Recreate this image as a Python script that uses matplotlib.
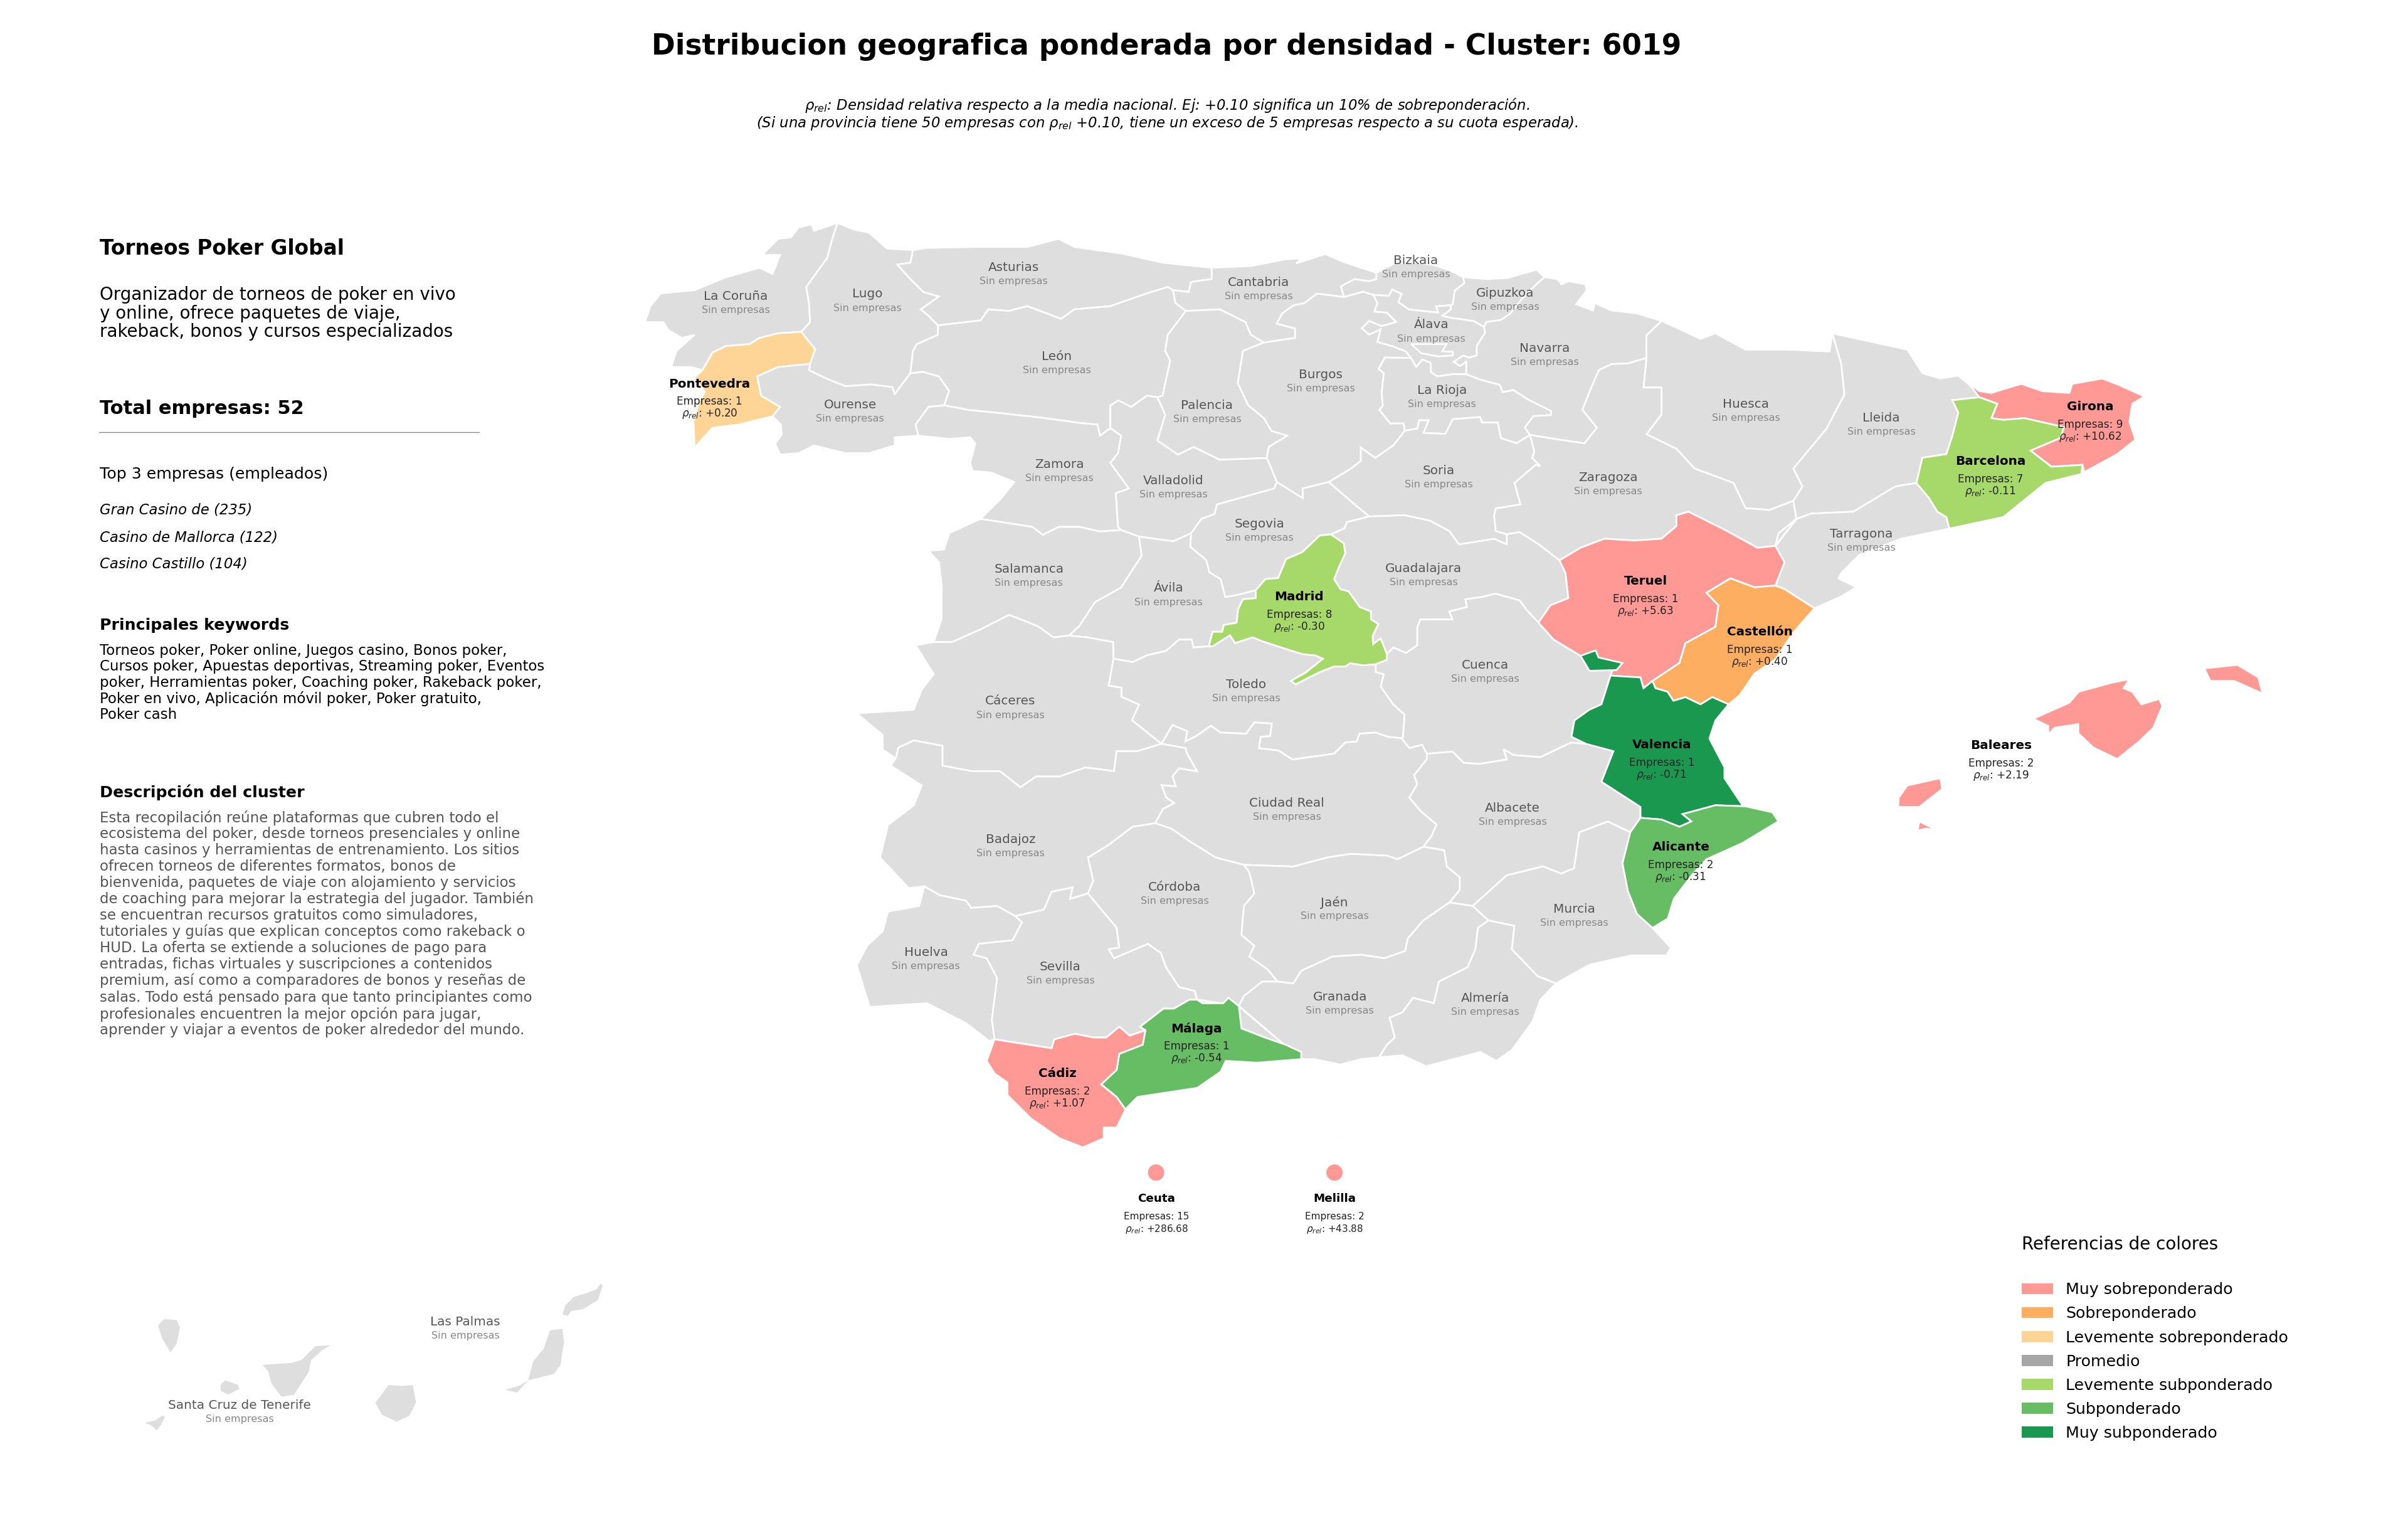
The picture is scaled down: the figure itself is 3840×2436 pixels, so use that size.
import matplotlib
matplotlib.use('Agg')
import matplotlib.pyplot as plt
from matplotlib.patches import Patch, Polygon, Circle

# province borders (picture units, 1568 wide), each one shared by two rings
cru_lug = [(545.4,145.1),(542,155.5),(538.6,168),(525,186.8),(526.8,197.2),(527.5,209.7),(521.7,216)]
cru_pon = [(521.7,216),(506.5,217),(494.6,220),(488,224),(472.6,225.3),(464,229.5),(457.4,241)]
cru_coast = [(457.4,241),(450,239),(437,239),(440.5,228.4),(452.3,218),(444,220),(435.4,215),(432,209.7),(420,209.7),(423.5,199.3),(430.3,191),(452.3,188.9),(472.6,180.5),(494.6,174.3),(503,178.4),(508,166),(496.3,166),(506.5,155.5),(515,154.5),(520,148.2),(528.5,146),(530,150.3),(545.4,145.1)]
lug_coast = [(545.4,145.1),(555.5,149.3),(565.7,151.4),(577.6,161.8),(594.5,162.8)]
ast_lug = [(594.5,162.8),(592.8,171),(584.3,172.2),(592.8,181.6),(601.2,190),(611.4,193),(599.6,201.4),(604.6,205.5),(610.7,211.8)]
lug_leo = [(610.7,211.8),(610.7,218),(597,224),(594.5,228.4),(592.8,243)]
lug_our = [(592.8,243),(582.6,256.6),(581,252),(567.4,250.3),(550.5,251.4),(537,246),(526.8,241),(527.5,236.8)]
lug_pon = [(527.5,236.8),(530.8,227.4),(521.7,216)]
pon_our = [(527.5,236.8),(506.5,238.9),(493,245),(495.6,257.6),(508,264.9),(503,271)]
pon_south = [(503,271),(481,276.4),(464,278.4),(452.3,291.3),(451.6,274.3),(455,262),(459,255),(452,246),(457.4,241)]
our_south = [(503,271),(508.5,276.4),(509,283),(504.8,288.8),(508,296),(520,295),(530,290),(550.5,295),(565.7,295),(582.6,290),(582.6,284.7),(598,283.6)]
our_zam = [(598,283.6),(596.2,276.4),(604.6,264.9),(614.8,263.9)]
our_leo = [(614.8,263.9),(618,254.5),(611.4,245),(601,242),(592.8,243)]
ast_coast = [(594.5,162.8),(603,161.4),(638.5,160.7),(669,160.7),(689.3,155.5),(699.4,160.7),(730,165),(757,171),(789,174.3)]
ast_can = [(789,174.3),(789,181.6),(775.6,183.6),(774,190),(763.8,188.9)]
ast_leo = [(763.8,188.9),(760.4,186.8),(746.8,191),(723,199.3),(699.4,201.4),(691,207.6),(669,199.3),(657,202.4),(643.6,201.4),(638.5,208.6),(610.7,211.8)]
leo_can = [(763.8,188.9),(765.4,197.2),(772.2,202.4)]
leo_pal = [(772.2,202.4),(760.4,218),(758.7,228.4),(762,234.7),(757,257.6),(753.6,258.6)]
leo_vld = [(753.6,258.6),(746.8,257.6),(736.7,264.9),(728.2,260.7),(723,264),(723,278.8)]
leo_zam = [(723,278.8),(716.3,283.6),(714.6,276.4),(702.8,275.3),(679,272),(652,269),(631.7,267),(614.8,263.9)]
can_coast = [(789,174.3),(814.5,173.2),(837.1,168.8),(847.3,168.1),(844,171.5),(863,165.4),(873.9,170.2),(882,172.9),(896.3,177.6)]
can_biz = [(896.3,177.6),(896.3,181.7),(891.5,183.1),(882,181.7),(873.2,186.5),(875.2,193.3)]
can_bur = [(875.2,193.3),(857.5,191.2),(849.3,197.4),(842.5,198.7),(835,204),(831.4,210.7),(843.3,213.8),(843.3,220),(823,223)]
can_pal = [(823,223),(814.5,218),(811,209.7),(794.2,201.4),(772.2,202.4)]
pal_bur = [(823,223),(809.4,228.4),(806,249.3),(812.8,263.8),(823,272.2),(828,280.5),(838.2,283.6),(826.3,290.9),(824.7,298.2)]
pal_vld = [(824.7,298.2),(794.2,299.3),(777.3,291),(767.1,296),(753.6,286.8),(758.7,270),(753.6,258.6)]
vld_bur = [(824.7,298.2),(826.3,301.3),(831.4,313.8)]
vld_seg = [(831.4,313.8),(829.7,318),(792.5,328.4),(790.8,334.7),(782.3,337.8),(775.6,347.2)]
vld_avi = [(775.6,347.2),(763.8,352.4),(741.7,349.3)]
vld_sal = [(741.7,349.3),(730,345)]
vld_zam = [(730,345),(728,343),(726.5,321),(735,318),(723,301.3),(728,295),(730,283.6),(723,278.8)]
zam_sal = [(730,345),(716.3,346),(702.8,343),(689.3,343),(679.1,348.2),(672.3,343),(638.5,337.8)]
zam_west = [(638.5,337.8),(652,324.3),(660.5,313.8),(645.3,307.6),(633.4,306.6),(631.7,301.3),(635.1,288.8),(631.7,284.7),(618.2,285.7),(598,283.6)]
sal_west = [(638.5,337.8),(618.2,347),(614.8,357.6),(604.6,358.6),(611.4,366),(613.1,380.5),(613.1,403.4),(608,418)]
sal_cac = [(608,418),(619.9,418),(638.5,409.7),(657.1,400.3),(675.7,407.6),(685.9,414.9),(696,413.8)]
sal_avi = [(696,413.8),(702.8,407.6),(713,392),(729.9,382.6),(743.4,361.8),(741.7,349.3)]
seg_bur = [(831.4,313.8),(848.3,324.3),(848.3,318),(865.3,313.8)]
seg_sor = [(865.3,313.8),(882.2,328.4),(891.7,336.2)]
seg_gua = [(891.7,336.2),(877.1,339.9),(875.4,344),(866.6,347.9)]
seg_mad = [(866.6,347.9),(859.4,348.6),(847.9,359.5),(837.5,363.9),(832.3,376.3),(824,377),(817.7,384.3)]
seg_avi = [(817.7,384.3),(806.2,387.2),(797.9,388.7),(794.8,377),(787.5,372.6),(785.4,364.6),(775,355.9),(775.6,347.2)]
avi_mad = [(817.7,384.3),(817.7,389.4),(809.4,390.1),(806.2,396.7),(805.2,405.4),(796.9,406.9),(795.8,411.3),(789.6,411.3),(787.1,420.7)]
avi_tol = [(787.1,420.7),(777.1,421.5),(776,416.4),(767.7,416.4),(759.4,423.7),(753.1,425.1),(746.9,426.6),(737.5,431),(725,428.8)]
avi_cac = [(725,428.8),(724.8,418),(708,414.9),(696,413.8)]
mad_gua = [(866.6,347.9),(875,353.7),(876,360.2),(871.9,369),(868.7,377),(872.9,383.6),(878.1,385),(885.4,395.2),(892.7,398.1),(892.7,403.2),(897.5,406.2),(893.7,414.2),(894.2,419.3),(899,415.6),(903.1,425.8)]
mad_cue = [(903.1,425.8),(903.1,429.5),(895.8,432.4)]
mad_tol = [(895.8,432.4),(887.5,433.1),(879.2,431.7),(876,433.9),(868.7,433.9),(859.4,437.5),(852,441.2),(843.7,445.5),(840.6,443.3),(850,438),(861.5,428.8),(856.2,426.6),(848,425.8),(834.4,421.5),(823,417.8),(815.6,414.9),(804.2,418.6),(801,413.5),(789.6,420.7),(787.1,420.7)]
biz_coast = [(896.3,177.6),(907.9,171.5),(921.5,170.8),(935.1,172.9),(944.6,176.3),(952.8,180.4)]
biz_gip = [(952.8,180.4),(953.5,184.4),(947.3,189.2),(946,198.1),(944.6,198.7)]
biz_ala = [(944.6,198.7),(935.1,199.4),(936.5,203.5),(917.4,201.5),(910.6,196.7),(912.6,191.3),(906.5,188.5),(904.5,192.6),(894.3,191.9)]
biz_bur = [(894.3,191.9),(887.5,189.9),(875.2,193.3)]
gip_coast = [(952.8,180.4),(967.8,181.7),(981.4,181),(990.9,178.3),(1000.4,175.6),(1005.9,180.4)]
gip_nav = [(1005.9,180.4),(1001.8,183.8),(996.3,189.2),(990.9,194.7),(983.4,204.2),(977.3,208.3),(967.8,209.6),(966.4,213)]
gip_ala = [(966.4,213),(959.6,209),(944.6,206.9),(939.2,205.5),(944.6,201.5),(944.6,198.7)]
ala_nav = [(966.4,213),(967.1,216.4),(961.6,225.3),(961.6,231.4),(956.9,232.8),(952.8,231.4),(946.7,235.5),(950.7,238.2),(954.8,235.5),(954.8,243.6)]
ala_rio = [(954.8,243.6),(946,243.6),(935.8,245),(931.7,242.3),(931.7,236.2),(926.2,234.1),(922.2,238.9),(918.8,233)]
ala_bur = [(918.8,233),(915.4,228.7),(906.5,225.3),(897,222.6),(899,214.4),(891.5,217.8),(886.8,213.7),(891.5,209),(899.7,212.3),(909.2,209.6),(903.1,203.5),(894.9,202.8),(897,197.4),(894.3,191.9)]
rio_bur = [(918.8,233),(901.8,232.8),(897.7,240.2),(901.1,243),(899.7,255.9),(900.4,264.1),(898.3,266.8),(905.2,275.6),(914,275.6),(914.7,280.4)]
rio_sor = [(914.7,280.4),(922.8,279),(924.2,273.6),(930.3,273.6),(926.9,281.8),(941.2,282.4),(946,272.9),(963.7,271.5),(965,275),(975.2,275),(977.3,285.2),(987.5,288.6),(996.3,283.1)]
rio_nav = [(996.3,283.1),(992.9,278.4),(998.4,270.9),(1010,270.2),(1010,267.5),(995,260),(985.5,253.9),(978.6,255.2),(976.6,250.5),(963.7,247),(954.8,243.6)]
bur_sor = [(914.7,280.4),(910.6,285.8),(907.2,290),(895.6,298.1),(886.1,291.3),(886.1,300.1),(880,304.9),(865.3,313.8)]
sor_zar = [(996.3,283.1),(999.1,294),(997.7,298.1),(1003.1,303.5),(1000,302.6),(986.2,314.4),(990.1,328.4),(974,331),(972.9,335.4),(974,345.7),(981.2,347.8)]
sor_gua = [(981.2,347.8),(981.2,354.4),(972.9,350.8),(950,354.4),(943.7,345.7),(931.2,339),(914.6,335.4),(891.7,336.2)]
nav_coast = [(1005.9,180.4),(1014,181.7),(1016.8,185.1),(1021.5,183.1),(1032.4,185.1),(1033.1,189.2),(1026.3,198),(1037.2,202.1),(1038.5,197.4),(1049.4,202.1),(1066,204),(1082,208.9)]
nav_hsc = [(1082,208.9),(1072.1,218.3),(1072.1,233)]
nav_zar = [(1072.1,233),(1060,236.6),(1049.4,237),(1041.2,240.9),(1035.8,253.2),(1030.4,266.8),(1039.9,278.4),(1031.7,288.6),(1012.7,285.8),(996.3,283.1)]
hsc_fr = [(1082,208.9),(1107.3,220.6),(1117,217),(1136.6,227.6),(1163.9,227.6),(1191.3,228.8),(1193.2,217)]
hsc_lle = [(1193.2,217),(1199,237),(1201,257),(1189.3,279.2),(1167.8,305),(1173.7,316.7),(1167.8,326)]
hsc_zar = [(1167.8,326),(1152.2,332),(1136.6,330.8),(1128.8,314.4),(1103.4,305),(1091.6,292.1),(1072.1,282.7),(1081.9,269.8),(1081.9,252.3),(1070.2,252.3),(1072.1,233)]
zar_gua = [(981.2,347.8),(989.5,346.4),(1002,354.4),(1015.5,364.8)]
zar_ter = [(1015.5,364.8),(1029.2,356.6),(1044.8,350.7),(1064.3,351.9),(1081.9,350.7),(1091.6,342.5),(1091.6,335.5),(1099.5,333.1),(1122.9,344.8),(1144.4,356.6),(1156.1,355.4)]
zar_tar = [(1156.1,355.4),(1158.1,347.2),(1169.8,337.8)]
zar_lle = [(1169.8,337.8),(1167.8,326)]
lle_fr = [(1193.2,217),(1242,227.6),(1251.8,242.9),(1263.5,246.4),(1275.2,244.5)]
lle_gir = [(1275.2,244.5),(1283,251),(1288.9,258.6)]
lle_bar = [(1288.9,258.6),(1271.3,260.5),(1275.2,268.7),(1271.3,283.9),(1267.4,295.6),(1251.8,298),(1247.9,314.4)]
lle_tar = [(1247.9,314.4),(1234.2,316.7),(1222.5,323.7),(1206.9,333.1),(1179.5,334.3),(1169.8,337.8)]
gir_fr = [(1275.2,244.5),(1288.9,254.6),(1296.7,255.8),(1304.5,253.4),(1316.2,249.9),(1329.9,254.6),(1347.5,255.8),(1349.4,249.9),(1369,246.4),(1380.7,251),(1396.3,258.1),(1388.5,262.8),(1386.6,274.5),(1390.5,286.2),(1378.7,295.6),(1357.3,307.3),(1356,302.6)]
gir_bar = [(1356,302.6),(1335.8,303.8),(1322.2,293.3),(1341.9,285),(1343.9,278),(1318.2,272.2),(1304.5,273.3),(1296.7,272.2),(1300.6,262.8),(1288.9,258.6)]
bar_coast = [(1356,302.6),(1355.3,308.5),(1331.9,314.4),(1304.5,336.6),(1269.4,344.1)]
bar_tar = [(1269.4,344.1),(1267.4,336.6),(1261.6,333.1),(1255.7,323.7),(1247.9,314.4)]
tar_coast = [(1269.4,344.1),(1238.1,350.7),(1210.8,361.2),(1199,373),(1197.1,376.5),(1208.8,382.3),(1199,388.2),(1181.5,396)]
tar_cas = [(1181.5,396),(1162,383.5),(1156.1,381.2)]
tar_ter = [(1156.1,381.2),(1162,366),(1156.1,355.4)]
cas_coast = [(1181.5,396),(1167.8,411.6),(1156.1,429.2),(1142.4,438.6),(1132.7,452.7),(1125.6,458.5)]
cas_vlc = [(1125.6,458.5),(1115,453.8),(1107.3,458.5),(1097.5,453.8),(1089.7,456.2),(1085.8,450.3),(1078,448),(1076,443.3)]
cas_ter = [(1076,443.3),(1093.6,431.6),(1097.5,418.7),(1117,408.1),(1119,394),(1111.2,385.9),(1126.8,376.5),(1142.4,382.3),(1156.1,381.2)]
ter_vlc = [(1076,443.3),(1070.2,448),(1068.2,441),(1048.7,439.8)]
ter_cue = [(1048.7,439.8),(1050.6,435),(1029.2,426.9),(1011.6,416.3),(1001.8,405.3)]
ter_gua = [(1001.8,405.3),(1009.6,394),(1021.3,389.4),(1019.4,373),(1015.5,364.8)]
vlc_coast = [(1125.6,458.5),(1117,469),(1113.1,480.8),(1122.9,499.5),(1122.9,506.6),(1134.6,524.2),(1136.6,524.9)]
vlc_ali = [(1136.6,524.9),(1117,524.2),(1095.6,530),(1101.4,534.7),(1093.6,538.2),(1081.9,533.5),(1068.2,532.4)]
vlc_alb = [(1068.2,532.4),(1068.2,525.3),(1042.8,508.9),(1050.6,489),(1033,484.3)]
vlc_cue = [(1033,484.3),(1023.3,479.6),(1025.2,469),(1035,462),(1042.8,458.5),(1048.7,439.8)]
ali_coast = [(1136.6,524.9),(1154.1,528.8),(1158,534.7),(1134.6,548.8),(1111.2,559.3),(1103,568),(1090,585),(1086,598),(1076,604)]
ali_mur = [(1076,604),(1066,595),(1060,580),(1056.5,562),(1061.6,541.8)]
ali_alb = [(1061.6,541.8),(1068.2,532.4)]
alb_mur = [(1061.6,541.8),(1047,534.8),(1028.4,541.8),(1025,565.2),(1016.5,568.7),(1004.7,564),(981,569.9),(959,589.8)]
mur_gra = [(959,589.8),(969.2,599.2)]
mur_alm = [(969.2,599.2),(986.1,602.7),(984.4,618),(1001.3,635.5),(1013.2,640.2)]
mur_coast = [(1013.2,640.2),(1035,628),(1062,622),(1085,622),(1088,617),(1076,604)]
alb_cue = [(1033,484.3),(1022.9,483.4),(1003.1,492.9),(985.4,491.5),(979.1,487.8),(981.2,494.4),(963.5,497.3),(953.1,496.6),(945.8,489.3),(929.1,490.7)]
alb_cr = [(929.1,490.7),(929.1,494.4),(920.8,504.6),(922.9,510.4),(917.7,519.2),(925,527.9),(935.4,536.7),(932.3,544),(926.9,551.2)]
alb_jae = [(926.9,551.2),(940.4,553.5),(942.1,564.1),(950.5,571.1),(950.5,579.3),(943.8,587.5)]
alb_gra = [(943.8,587.5),(959,589.8)]
cue_gua = [(1001.8,405.3),(993.7,396.7),(989.6,390.9),(973.9,386.5),(964.6,388.7),(954.2,390.1),(955.2,395.2),(943.7,398.1),(945.8,403.2),(932.3,403.2),(925,403.2),(922.9,408.4),(922.9,420),(915.6,425.1),(907.3,421.5),(903.1,425.8)]
cue_tol = [(895.8,432.4),(895.8,437.5),(901,439),(899,447),(907.3,458.7),(914.6,465.2),(913.5,479.8),(912.5,480.5)]
cue_cr = [(912.5,480.5),(917.7,487),(926,484.9),(929.1,490.7)]
tol_cac = [(725,428.8),(721.9,446.3),(730.2,447.7),(730.2,453.6),(741.7,458.7),(737.1,468.9),(756.3,484.2)]
tol_cr = [(756.3,484.2),(763.5,472),(773,476),(771.9,482.7),(779.2,479),(788.5,472.5),(794.8,476.9),(811.5,477.6),(816.7,470.3),(828.1,471),(827.1,479),(820.8,479.8),(819.8,487.1),(832.3,488.5),(841.7,494.4),(868.7,490.7),(876,483.4),(883.3,482.7),(885.4,477.6),(895.8,476.9),(904.2,479.8),(912.5,480.5)]
cr_bad = [(756.3,484.2),(771.9,487),(772.8,490.2),(779.4,502),(767.7,500.2),(763.5,505.3),(765.6,511.9),(756.3,511),(759.4,519.2),(764.6,522.8),(757.3,526.5),(752.1,535.9)]
cr_cor = [(752.1,535.9),(762.7,539.4),(774.5,547.6),(791.5,558.2),(810,563)]
cr_jae = [(810,563),(842.2,564.1),(864.2,558.2),(879.5,555.9),(903.2,557),(910,559.4),(926.9,551.2)]
cac_west = [(608,418),(596.2,420),(608,438.8),(600.2,449),(595,462),(557.9,464.4),(574.8,478.5),(574.8,487.9),(583.3,493.7)]
cac_bad = [(583.3,493.7),(585,486.7),(595.1,482),(613.7,485.5),(613.7,498.4),(632.4,502),(651,502),(664.5,512.5),(674.7,505.5),(689.9,505.5),(706.8,499.6),(725.4,502),(727.1,489),(740.7,489),(756.3,484.2)]
bad_west = [(583.3,493.7),(580,498.4),(600.2,511.3),(595.1,524.2),(578.2,537.1),(573.1,558.2),(591.7,578.1),(601.9,577)]
bad_hlv = [(601.9,577),(612,582.8),(629,586.3),(632.4,591),(649.3,589.8),(661.1,596.4)]
bad_sev = [(661.1,596.4),(679.7,592.2),(684.8,580.5),(698.4,577.7),(696.7,585.2),(708.5,581.6)]
bad_cor = [(708.5,581.6),(711.9,573.4),(708.5,558.2),(722,550),(737.3,538.3),(752.1,535.9)]
hlv_coast = [(601.9,577),(598.5,589.8),(578.2,593.4),(574.8,606.2),(564.7,615.6),(557.9,628.5),(566.3,655.5),(603.6,653.1),(629,666),(644.2,677.7),(647.6,676.6)]
hlv_sev = [(647.6,676.6),(645.9,663.7),(649.3,636.7),(642.5,623.8),(634,621.5),(637.4,614.4),(659.4,612.1),(665.5,600.4),(661.1,596.4)]
sev_cor = [(708.5,581.6),(715.3,589.8),(727.1,603.9),(728.8,616.8),(722,618),(725.4,623.8),(747.4,614.4),(755.9,620.3),(759.3,629.7),(767.8,642.6),(777.9,645),(779.6,650.8)]
sev_mal = [(779.6,650.8),(774.5,650.8),(764.4,656.6),(757.6,656.6),(742.4,668.4),(745.8,670.7)]
sev_cad = [(745.8,670.7),(735.6,674.2),(728.8,668.4),(720.4,675.4),(711.9,675.4),(700,673),(686.5,676.6),(684.8,682.4),(647.6,676.6)]
cad_coast = [(647.6,676.6),(642.5,690.6),(647.6,698.8),(656,704.7),(656,712.9),(671.3,728.1),(689.9,741),(705.1,746.9),(718.7,741),(718.7,734),(727.1,734),(732.9,722.3)]
cad_mal = [(732.9,722.3),(727.1,714.1),(717,705.9),(727.1,696.5),(728.8,686),(744.1,680.1),(745.8,670.7)]
mal_coast = [(732.9,722.3),(733.9,721),(740.7,714.1),(779.6,708.2),(794.8,697.7),(798.2,690.6),(818.5,691.8),(847.3,689.5)]
mal_gra = [(847.3,689.5),(847.3,684.8),(837.1,680.1),(823.6,675.4),(808.4,669.5),(806.7,655)]
mal_cor = [(806.7,655),(799.9,649.6),(796.5,653.1),(783,653.1),(779.6,650.8)]
cor_jae = [(810,563),(813.5,567.6),(816.8,581.6),(810,589.8),(808.4,608.6),(816.8,615.6),(813.5,622.7),(825.3,630.9),(832,639)]
cor_gra = [(832,639),(821.9,639),(810,648.4),(806.7,655)]
jae_gra = [(943.8,587.5),(926.9,599.2),(916.7,611),(915,619.1),(901.5,623.8),(886.2,621.5),(867.6,622.7),(847.3,632),(842.2,640.2),(832,639)]
gra_alm = [(969.2,599.2),(962.4,604),(960.7,618),(955.6,629.7),(937,639),(933.6,653.1),(920.1,649.6),(913.3,659),(904.9,662.5),(908.3,675.4),(903.2,680.1),(898,688.3)]
gra_coast = [(898,688.3),(886.2,689.5),(872.7,693),(855.8,689.5),(847.3,689.5)]
alm_coast = [(1013.2,640.2),(1003,650.8),(998,664.9),(984.4,683.6),(974.3,690.6),(964.1,684.8),(928.6,694.1),(913.3,687),(898,688.3)]

# pieces that stand alone
trevino = [(918.8,224),(925.6,230),(936.5,232),(946,231.4),(946,229),(939.2,228.7),(941.9,224)]
ademuz = [(1029.2,426.9),(1039,423.4),(1040.9,428),(1056.5,431.6),(1052.6,436.2),(1035,436.7)]
mallorca = [(1324,467.9),(1347.5,457.4),(1353.6,450.3),(1374.8,444.5),(1386.6,442.1),(1382.7,448),(1388.5,450.3),(1394.4,458.5),(1406.1,455),(1408,459.7),(1402.2,473.8),(1392.4,483.1),(1378.7,494.1),(1363.1,486.6),(1353.3,477.3),(1353.3,471.4),(1337.7,473.8),(1333.8,478.4),(1333.8,472.6)]
menorca = [(1435.4,435.1),(1456.9,432.8),(1470.5,440.9),(1473.3,451.5),(1454.9,443.3),(1439.3,443.3)]
ibiza = [(1236.2,519.5),(1242,511.3),(1263.5,506.6),(1264.7,513.6),(1249.8,525.3),(1236.2,525.3)]
formentera = [(1248.7,540.6),(1249.8,534.7),(1261.5,540.6),(1254.5,539.4)]
cabrera = [(1368,503.2),(1369.8,504.5),(1368,505.5)]
la_palma = [(102.2,862.9),(106.6,858.1),(115.5,858.8),(117.7,864.3),(115.5,875.1),(111,881.3),(105.5,872.4)]
tenerife = [(169.7,888),(189.6,886.7),(196.2,884.7),(205.1,875.8),(217.3,875.1),(209.5,879.9),(202.9,886),(201.8,892.8),(191.8,908.5),(183,909.8),(176.3,901),(174.1,892.8)]
gomera = [(143.1,901),(146.5,898),(155.3,901),(156.4,904.4),(148.7,908.5),(143.1,905.7)]
hierro = [(92.2,926.1),(101.1,924.1),(105.5,920.7),(108.2,922.1),(105.5,927.5),(102.2,932),(97.8,928.2)]
gran_canaria = [(243.8,913.2),(252.7,901),(261.5,901.7),(269.3,901),(271.5,913.2),(267,922.1),(258.2,926.1),(248.3,921.4)]
fuerteventura = [(357.8,865.6),(366.7,864.3),(367.8,873.8),(365.5,888.7),(361.1,894.9),(344.5,899),(336.8,907.1),(326.8,904.8),(338,901.5),(343.4,898.3),(346.7,886),(353.4,877.9)]
lanzarote = [(367.8,849.3),(373.3,843.9),(382.1,841.1),(387.7,839.1),(391,835),(393.2,836.4),(389.9,846.6),(379.9,852.7),(372.2,854),(370,857.2),(365.5,856.1)]
graciosa = [(387.7,831.6),(389.2,831.6),(387,834)]
ceuta_real = [(746,731.5),(749.5,732.5),(748,733.5)]
melilla_real = [(872.6,740.6),(873.4,739.4),(874.4,740.6),(873.4,741.6)]
ceuta_mark = (752.8,763.3)
melilla_mark = (869,763.3)

# provinces with companies
active_names = ['Pontevedra','Madrid','Girona','Barcelona','Teruel','Castellón','Valencia','Alicante','Baleares','Málaga','Cádiz','Ceuta','Melilla']
active_counts = [1,8,9,7,1,1,1,2,2,1,2,15,2]
active_rho = [0.20,-0.30,10.62,-0.11,5.63,0.40,-0.71,-0.31,2.19,-0.54,1.07,286.68,43.88]
active_cats = ['Levemente sobreponderado','Levemente subponderado','Muy sobreponderado','Levemente subponderado','Muy sobreponderado','Sobreponderado','Muy subponderado','Subponderado','Muy sobreponderado','Subponderado','Muy sobreponderado','Muy sobreponderado','Muy sobreponderado']
active_x = [462,846,1361,1296,1071.5,1146,1082,1094.5,1303,779,688.5,753,869]
active_y = [250,388.5,265,300.5,378.5,411.5,485,551.5,485.5,669.5,699,780.5,780.5]

empty_names = ['La Coruña','Lugo','Asturias','Cantabria','Bizkaia','Gipuzkoa','Álava','Navarra','León','Palencia','Burgos','La Rioja','Ourense','Zamora','Valladolid','Soria','Huesca','Lleida','Zaragoza','Tarragona','Segovia','Salamanca','Ávila','Guadalajara','Cuenca','Toledo','Cáceres','Ciudad Real','Badajoz','Albacete','Córdoba','Jaén','Murcia','Huelva','Sevilla','Granada','Almería','Las Palmas','Santa Cruz de Tenerife']
empty_x = [479,565,660,819.5,922,980,932,1006,688,786,860,939,553.5,690,764,937,1137,1225,1047,1212,820,670,761,927,967,811.5,658,838,658,985,765,869,1025,603,690.5,872.5,967,303,156]
empty_y = [193,191.5,174,184,169.5,191,211.5,227,232,264,244,254,263.5,302.5,313,306.5,263,272,311,347.5,341,370.5,383,370,433,445.5,456.5,523,546.5,526,577.5,587.5,592,620,629.5,649,650,860.5,915]

legend_labels = ['Muy sobreponderado','Sobreponderado','Levemente sobreponderado','Promedio','Levemente subponderado','Subponderado','Muy subponderado']
legend_colors = ['#ff9995','#fdae61','#fed597','#a6a6a6','#a6d96a','#66bd63','#1a9850']
cat_color = dict(zip(legend_labels, legend_colors))
GREY = '#dedede'

top_companies = ['Gran Casino de (235)','Casino de Mallorca (122)','Casino Castillo (104)']
top_y = [332,350,367]
keywords = ('Torneos poker, Poker online, Juegos casino, Bonos poker,\n'
            'Cursos poker, Apuestas deportivas, Streaming poker, Eventos\n'
            'poker, Herramientas poker, Coaching poker, Rakeback poker,\n'
            'Poker en vivo, Aplicación móvil poker, Poker gratuito,\n'
            'Poker cash')
description = ('Esta recopilación reúne plataformas que cubren todo el\n'
               'ecosistema del poker, desde torneos presenciales y online\n'
               'hasta casinos y herramientas de entrenamiento. Los sitios\n'
               'ofrecen torneos de diferentes formatos, bonos de\n'
               'bienvenida, paquetes de viaje con alojamiento y servicios\n'
               'de coaching para mejorar la estrategia del jugador. También\n'
               'se encuentran recursos gratuitos como simuladores,\n'
               'tutoriales y guías que explican conceptos como rakeback o\n'
               'HUD. La oferta se extiende a soluciones de pago para\n'
               'entradas, fichas virtuales y suscripciones a contenidos\n'
               'premium, así como a comparadores de bonos y reseñas de\n'
               'salas. Todo está pensado para que tanto principiantes como\n'
               'profesionales encuentren la mejor opción para jugar,\n'
               'aprender y viajar a eventos de poker alrededor del mundo.')


def rev(arc):
    return arc[::-1]


def ring(*arcs):
    pts = []
    for arc in arcs:
        pts.extend(arc)
    return pts


grey_shapes = [
    ring(cru_lug, cru_pon, cru_coast),
    ring(lug_coast, ast_lug, lug_leo, lug_our, lug_pon, rev(cru_lug)),
    ring(rev(lug_our), rev(our_leo), rev(our_zam), rev(our_south), rev(pon_our)),
    ring(ast_coast, ast_can, ast_leo, rev(ast_lug)),
    ring(rev(ast_leo), leo_can, leo_pal, leo_vld, leo_zam, our_leo, rev(lug_leo)),
    ring(can_coast, can_biz, can_bur, can_pal, rev(leo_can), rev(ast_can)),
    ring(rev(leo_pal), rev(can_pal), pal_bur, pal_vld),
    ring(can_bur, pal_bur, vld_bur, seg_bur, rev(bur_sor), rev(rio_bur), ala_bur, biz_bur),
    ring(rev(pal_vld), vld_bur, vld_seg, vld_avi, vld_sal, vld_zam, rev(leo_vld)),
    ring(our_zam, rev(leo_zam), rev(vld_zam), zam_sal, zam_west),
    ring(rev(zam_sal), rev(vld_sal), rev(sal_avi), rev(sal_cac), rev(sal_west)),
    ring(rev(vld_seg), seg_bur, seg_sor, seg_gua, seg_mad, seg_avi),
    ring(rev(vld_avi), rev(seg_avi), avi_mad, avi_tol, avi_cac, sal_avi),
    ring(biz_coast, biz_gip, biz_ala, biz_bur, rev(can_biz)),
    ring(gip_coast, gip_nav, gip_ala, rev(biz_gip)),
    ring(rev(gip_ala), ala_nav, ala_rio, ala_bur, rev(biz_ala)),
    ring(rev(ala_rio), rev(rio_nav), rev(rio_sor), rev(rio_bur)),
    ring(rio_sor, sor_zar, sor_gua, rev(seg_sor), rev(bur_sor)),
    ring(nav_coast, nav_hsc, nav_zar, rio_nav, rev(ala_nav), rev(gip_nav)),
    ring(hsc_fr, hsc_lle, hsc_zar, rev(nav_hsc)),
    ring(nav_zar, sor_zar, zar_gua, zar_ter, zar_tar, zar_lle, hsc_zar),
    ring(lle_fr, lle_gir, lle_bar, lle_tar, zar_lle, rev(hsc_lle)),
    ring(rev(zar_tar), rev(lle_tar), rev(bar_tar), tar_coast, tar_cas, tar_ter),
    ring(sor_gua, seg_gua, mad_gua, rev(cue_gua), ter_gua, rev(zar_gua)),
    ring(ter_cue, cue_gua, mad_cue, cue_tol, cue_cr, rev(alb_cue), vlc_cue),
    ring(avi_tol, tol_cac, tol_cr, rev(cue_tol), mad_tol),
    ring(rev(tol_cr), cr_bad, cr_cor, cr_jae, rev(alb_cr), rev(cue_cr)),
    ring(sal_cac, rev(avi_cac), tol_cac, rev(cac_bad), rev(cac_west)),
    ring(cac_bad, cr_bad, rev(bad_cor), rev(bad_sev), rev(bad_hlv), rev(bad_west)),
    ring(alb_cue, alb_cr, alb_jae, alb_gra, rev(alb_mur), ali_alb, vlc_alb),
    ring(alb_mur, mur_gra, mur_alm, mur_coast, ali_mur),
    ring(bad_hlv, rev(hlv_sev), rev(hlv_coast)),
    ring(hlv_sev, bad_sev, sev_cor, sev_mal, sev_cad),
    ring(bad_cor, cr_cor, cor_jae, cor_gra, rev(mal_cor), rev(sev_cor)),
    ring(cr_jae, alb_jae, jae_gra, rev(cor_jae)),
    ring(rev(jae_gra), alb_gra, mur_gra, gra_alm, gra_coast, rev(mal_gra), rev(cor_gra)),
    ring(mur_alm, alm_coast, rev(gra_alm)),
    trevino, la_palma, tenerife, gomera, hierro, gran_canaria, fuerteventura, lanzarote, graciosa,
]

active_shapes = {
    'Pontevedra': [ring(rev(lug_pon), pon_our, pon_south, rev(cru_pon))],
    'Madrid': [ring(mad_gua, mad_cue, mad_tol, rev(avi_mad), rev(seg_mad))],
    'Girona': [ring(gir_fr, gir_bar, rev(lle_gir))],
    'Barcelona': [ring(lle_bar, rev(bar_tar), rev(bar_coast), gir_bar)],
    'Teruel': [ring(zar_ter, rev(tar_ter), rev(cas_ter), ter_vlc, ter_cue, ter_gua)],
    'Castellón': [ring(rev(tar_cas), cas_coast, cas_vlc, cas_ter)],
    'Valencia': [ring(rev(ter_vlc), rev(cas_vlc), vlc_coast, vlc_ali, vlc_alb, vlc_cue), ademuz],
    'Alicante': [ring(ali_coast, ali_mur, ali_alb, rev(vlc_ali))],
    'Baleares': [mallorca, menorca, ibiza, formentera, cabrera],
    'Málaga': [ring(sev_mal, rev(cad_mal), mal_coast, mal_gra, mal_cor)],
    'Cádiz': [ring(rev(sev_cad), rev(cad_mal), rev(cad_coast))],
    'Ceuta': [ceuta_real],
    'Melilla': [melilla_real],
}

W, H = 1568, 994.7
fig = plt.figure(figsize=(19.2, 12.18), dpi=200)
ax = fig.add_axes([0, 0, 1, 1])
ax.set_xlim(0, W)
ax.set_ylim(H, 0)
ax.axis('off')

for pts in grey_shapes:
    ax.add_patch(Polygon(pts, closed=True, facecolor=GREY, edgecolor='white', linewidth=1.0))
for name, cat in zip(active_names, active_cats):
    for pts in active_shapes[name]:
        ax.add_patch(Polygon(pts, closed=True, facecolor=cat_color[cat], edgecolor='white', linewidth=1.0))
ax.add_patch(Circle(ceuta_mark, 5.3, facecolor=cat_color['Muy sobreponderado'], edgecolor='none'))
ax.add_patch(Circle(melilla_mark, 5.3, facecolor=cat_color['Muy sobreponderado'], edgecolor='none'))

for name, x, y in zip(empty_names, empty_x, empty_y):
    ax.text(x, y, name, ha='center', va='center', fontsize=7.2, color='#555555')
    ax.text(x, y + 9, 'Sin empresas', ha='center', va='center', fontsize=5.8, color='#888888')

for name, n, rho, x, y in zip(active_names, active_counts, active_rho, active_x, active_y):
    # Ceuta and Melilla carry a slightly smaller label than the rest
    small = name in ('Ceuta', 'Melilla')
    ax.text(x, y, name, ha='center', va='center', fontsize=6.6 if small else 7.2, fontweight='bold', color='black')
    ax.text(x, y + 11.5, 'Empresas: {0}'.format(n), ha='center', va='center', fontsize=5.5 if small else 6.1, color='#222222')
    ax.text(x, y + 19.5, r'$\rho_{{rel}}$: {0:+.2f}'.format(rho), ha='center', va='center', fontsize=5.5 if small else 6.1, color='#222222')

ax.text(759.5, 30.5, 'Distribucion geografica ponderada por densidad - Cluster: 6019',
        ha='center', va='center', fontsize=16.4, fontweight='bold')
ax.text(760, 74.5, r'$\rho_{rel}$: Densidad relativa respecto a la media nacional. Ej: +0.10 significa un 10% de sobreponderación.'
        '\n' r'(Si una provincia tiene 50 empresas con $\rho_{rel}$ +0.10, tiene un exceso de 5 empresas respecto a su cuota esperada).',
        ha='center', va='center', fontsize=8.2, style='italic', linespacing=1.05)

ax.text(65, 162, 'Torneos Poker Global', ha='left', va='center', fontsize=11.8, fontweight='bold')
ax.text(65, 204, 'Organizador de torneos de poker en vivo\ny online, ofrece paquetes de viaje,\nrakeback, bonos y cursos especializados',
        ha='left', va='center', fontsize=10, linespacing=1.07)
ax.text(65, 266, 'Total empresas: 52', ha='left', va='center', fontsize=11, fontweight='bold')
ax.plot([64.6, 311.8], [281.5, 281.5], color='#888888', linewidth=0.5)
ax.text(65, 308.5, 'Top 3 empresas (empleados)', ha='left', va='center', fontsize=9.1)
for company, y in zip(top_companies, top_y):
    ax.text(65, y, company, ha='left', va='center', fontsize=8.2, style='italic')
ax.text(65, 407, 'Principales keywords', ha='left', va='center', fontsize=9.1, fontweight='bold')
ax.text(65, 444.5, keywords, ha='left', va='center', fontsize=8.25, linespacing=1.12)
ax.text(65, 516, 'Descripción del cluster', ha='left', va='center', fontsize=9.1, fontweight='bold')
ax.text(65, 601.5, description, ha='left', va='center', fontsize=8.25, linespacing=1.15, color='#555555')

handles = [Patch(facecolor=c, edgecolor='none') for c in legend_colors]
ax.legend(handles, legend_labels, title='Referencias de colores\n', alignment='left',
          loc='upper left', bbox_to_anchor=(1307 / W, 1 - 795 / H), frameon=False, fontsize=9.1, title_fontsize=10,
          labelspacing=0.56)

fig.savefig('out.png', dpi=200, facecolor='white')
